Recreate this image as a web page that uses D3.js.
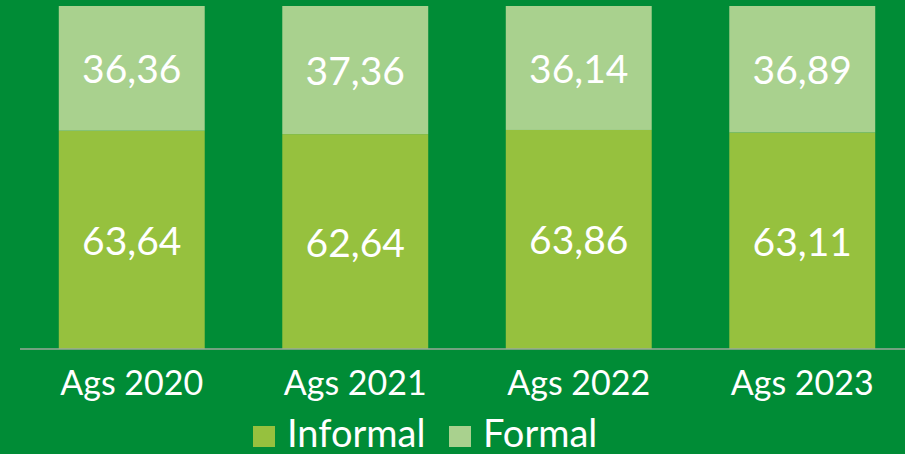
<!DOCTYPE html>
<html>
<head>
<meta charset="utf-8">
<script src="https://cdn.jsdelivr.net/npm/d3@7"></script>
<style>
html,body{margin:0;padding:0;background:#008c36;}
svg{display:block;}
text{font-family:Lato,"Open Sans",sans-serif;fill:#fff;}
</style>
</head>
<body>
<svg width="905" height="454"></svg>
<script>
var categories = ['Ags 2020','Ags 2021','Ags 2022','Ags 2023']
var informal = [63.64, 62.64, 63.86, 63.11]
var formal = [36.36, 37.36, 36.14, 36.89]
var seriesNames = ['Informal','Formal']
var colors = ['#96c13e','#a9d18e']

var svg = d3.select('svg')

var x = d3.scaleBand()
    .domain(categories)
    .range([20, 914])
    .paddingInner(0.347)
    .paddingOuter(0.1735)

var y = d3.scaleLinear()
    .domain([0, 100])
    .range([349, 6])

var rows = categories.map(function(c, i) {
    return {cat: c, Informal: informal[i], Formal: formal[i]}
})
var stack = d3.stack().keys(seriesNames)(rows)

var fmt = function(v) { return v.toFixed(2).replace('.', ',') }

var groups = svg.selectAll('g.series')
    .data(stack)
    .enter().append('g')
    .attr('class', 'series')

groups.selectAll('rect')
    .data(function(d) { return d })
    .enter().append('rect')
    .attr('x', function(d) { return x(d.data.cat) })
    .attr('width', x.bandwidth())
    .attr('y', function(d) { return y(d[1]) })
    .attr('height', function(d) { return y(d[0]) - y(d[1]) })
    .attr('fill', function(d) { return colors[seriesNames.indexOf(d3.select(this.parentNode).datum().key)] })

groups.each(function(s) {
    d3.select(this).selectAll('text')
        .data(s)
        .enter().append('text')
        .attr('x', function(d) { return x(d.data.cat) + x.bandwidth() / 2 })
        .attr('y', function(d) { return (y(d[0]) + y(d[1])) / 2 })
        .attr('text-anchor', 'middle')
        .attr('dominant-baseline', 'central')
        .style('font-size', '39px')
        .text(function(d) { return fmt(d.data[s.key]) })
})

// baseline
svg.append('line')
    .attr('x1', 20).attr('x2', 905)
    .attr('y1', y(0)).attr('y2', y(0))
    .attr('stroke', '#9aa99a')
    .attr('stroke-width', 1.5)

var xAxis = svg.append('g')
    .attr('transform', 'translate(0,' + y(0) + ')')
    .call(d3.axisBottom(x).tickSize(0).tickPadding(22))
xAxis.select('.domain').remove()
xAxis.selectAll('text')
    .style('font-size', '34px')
    .attr('fill', '#fff')
    .style('font-family', 'Lato,"Open Sans",sans-serif')

// legend
var legendX = [253, 449]
var leg = svg.selectAll('g.legend')
    .data(seriesNames)
    .enter().append('g')
    .attr('class', 'legend')
    .attr('transform', function(d, i) { return 'translate(' + legendX[i] + ',426)' })
leg.append('rect')
    .attr('width', 22).attr('height', 21)
    .attr('fill', function(d, i) { return colors[i] })
leg.append('text')
    .attr('x', 34).attr('y', 21)
    .style('font-size', '38px')
    .text(function(d) { return d })
</script>
</body>
</html>
